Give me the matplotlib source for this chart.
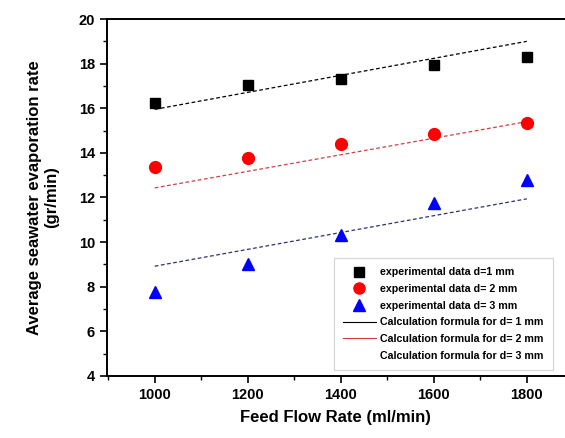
import numpy as np
import matplotlib
matplotlib.use('Agg')
import matplotlib.pyplot as plt
from matplotlib.lines import Line2D
from matplotlib.ticker import MultipleLocator

plt.rcParams['font.family'] = ['Liberation Sans', 'DejaVu Sans']

# data
flow = [1000, 1200, 1400, 1600, 1800]
exp_d1 = [16.25, 17.05, 17.3, 17.95, 18.3]
exp_d2 = [13.35, 13.75, 14.4, 14.85, 15.35]
exp_d3 = [7.75, 9.0, 10.3, 11.75, 12.8]

calc_x = [1000, 1800]
calc_d1 = [15.95, 19.0]
calc_d2 = [12.43, 15.4]
calc_d3 = [8.92, 11.94]

labels_exp = ['experimental data d=1 mm', 'experimental data d= 2 mm', 'experimental data d= 3 mm']
labels_calc = ['Calculation formula for d= 1 mm', 'Calculation formula for d= 2 mm',
               'Calculation formula for d= 3 mm']

fig = plt.figure(figsize=(5.65, 4.38), dpi=100)
ax = fig.add_axes([0.189, 0.1416, 0.811, 0.815])

ax.plot(calc_x, calc_d1, color='black', lw=0.9, ls=(0, (3, 2)))
ax.plot(calc_x, calc_d2, color='#d04040', lw=0.9, ls=(0, (3, 2)))
ax.plot(calc_x, calc_d3, color='#303070', lw=0.9, ls=(0, (3, 2)))

ax.plot(flow, exp_d1, 's', color='black', ms=7.5, ls='none')
ax.plot(flow, exp_d2, 'o', color='#ff0000', ms=8.5, ls='none')
ax.plot(flow, exp_d3, '^', color='#0000ff', ms=9, ls='none')

ax.set_xlim(897, 1882)
ax.set_ylim(4, 20)
ax.xaxis.set_major_locator(MultipleLocator(200))
ax.xaxis.set_minor_locator(MultipleLocator(100))
ax.yaxis.set_major_locator(MultipleLocator(2))
ax.yaxis.set_minor_locator(MultipleLocator(1))
ax.tick_params(which='major', direction='out', length=5, width=1.2, labelsize=10.5)
ax.tick_params(which='minor', direction='out', length=3, width=1)
for lab in ax.get_xticklabels() + ax.get_yticklabels():
    lab.set_fontweight('bold')
for s in ['left', 'bottom', 'top']:
    ax.spines[s].set_linewidth(1.4)
ax.spines['right'].set_visible(False)

ax.set_xlabel('Feed Flow Rate (ml/min)', fontsize=12, fontweight='bold', labelpad=6)
ax.set_ylabel('Average seawater evaporation rate\n(gr/min)', fontsize=12, fontweight='bold', labelpad=14)

handles = [
    Line2D([], [], marker='s', color='black', ls='none', ms=7),
    Line2D([], [], marker='o', color='#ff0000', ls='none', ms=8),
    Line2D([], [], marker='^', color='#0000ff', ls='none', ms=8),
    Line2D([], [], color='black', lw=0.8),
    Line2D([], [], color='#d04040', lw=0.8),
    Line2D([], [], color='none', lw=0.8),
]
leg = ax.legend(handles, labels_exp + labels_calc, loc='lower right',
                bbox_to_anchor=(0.978, 0.01), prop={'weight': 'bold', 'size': 7.7},
                frameon=True, fancybox=False, edgecolor='#cccccc', handlelength=3,
                labelspacing=0.62, borderpad=0.9, handletextpad=0.4, borderaxespad=0.2)
leg.get_frame().set_linewidth(0.8)

fig.savefig('out.png', dpi=100)
